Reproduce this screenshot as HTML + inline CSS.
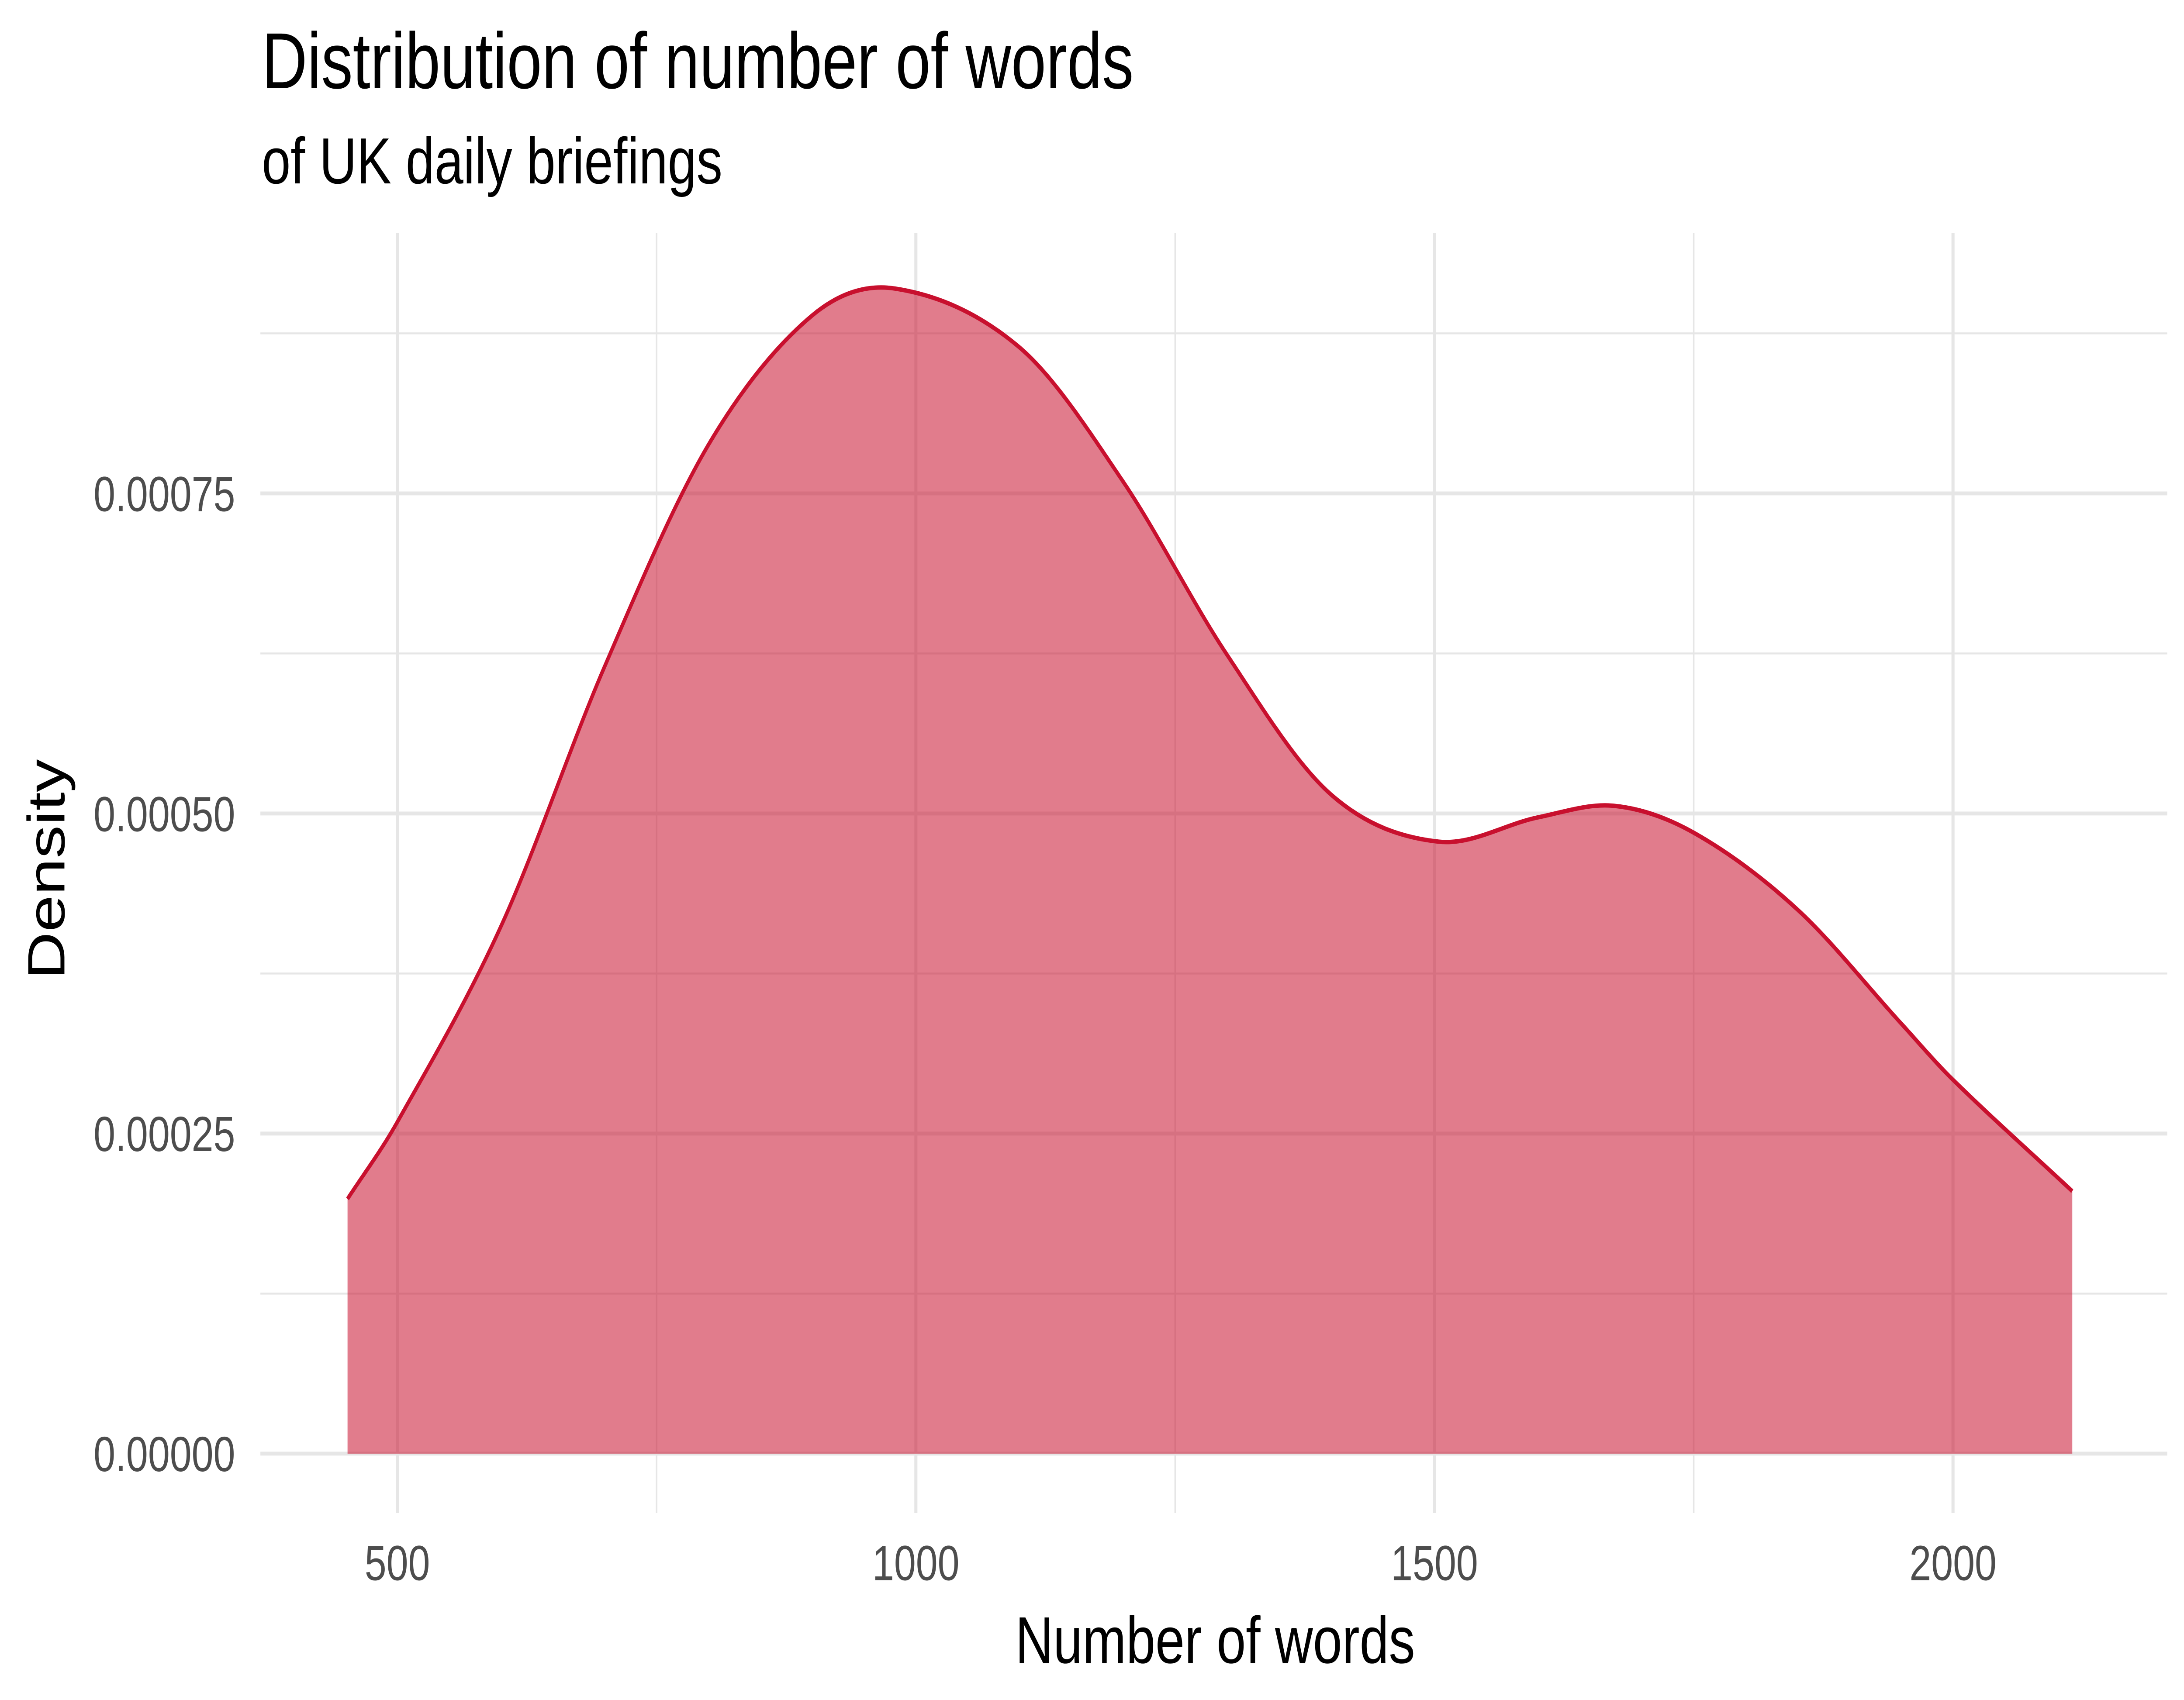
<!DOCTYPE html>
<html><head><meta charset="utf-8"><style>
html,body{margin:0;padding:0;background:#fff;width:100%;height:100%;overflow:hidden}
svg{display:block;position:absolute;left:0;top:0;width:100vw;height:100vh}
</style></head>
<body>
<svg viewBox="0 0 1560 964" preserveAspectRatio="none" xmlns="http://www.w3.org/2000/svg" font-family="Liberation Sans, sans-serif">
<rect width="1560" height="964" fill="#fff"/>
<g id="grid"></g>
<path id="area" fill="rgba(200,16,46,0.55)"/>
<path id="line" fill="none" stroke="#C8102E" stroke-width="2.5"/>
<g id="ticks" font-size="28" fill="#4d4d4d"></g>
<text x="187" y="50" font-size="45" fill="#000">Distribution of number of words</text>
<text x="187" y="104" font-size="37" fill="#000">of UK daily briefings</text>
<text x="868" y="943" font-size="37.5" text-anchor="middle" fill="#000">Number of words</text>
<text transform="translate(46,493) rotate(-90)" font-size="37.5" text-anchor="middle" fill="#000">Density</text>
</svg>
<script>
const xWords=[452,500,600,700,800,900,980,1100,1200,1300,1400,1504,1600,1673,1750,1850,1950,2000,2115];
const density=[0.000199,0.000259,0.000412,0.000615,0.000788,0.000889,0.00091,0.000864,0.000759,0.000624,0.000515,0.000478,0.000497,0.000506,0.000485,0.000425,0.000336,0.000292,0.000205];
const xTicks=[500,1000,1500,2000];
const xMinor=[750,1250,1750];
const yTicks=[0,0.00025,0.0005,0.00075];
const yTickLabels=["0.00000","0.00025","0.00050","0.00075"];
const yMinor=[0.000125,0.000375,0.000625,0.000875];
const X=v=>283.8+(v-500)*0.7408;
const Y=v=>824.3-v/0.00025*181.5;
const NS="http://www.w3.org/2000/svg";
const grid=document.getElementById('grid'),ticks=document.getElementById('ticks');
function ln(x1,y1,x2,y2,w,name){const l=document.createElementNS(NS,'line');
l.setAttribute('x1',x1);l.setAttribute('y1',y1);l.setAttribute('x2',x2);l.setAttribute('y2',y2);
l.setAttribute('stroke','#e6e6e6');l.setAttribute('stroke-width',w);


grid.appendChild(l);}
yMinor.forEach(v=>ln(186,Y(v),1548,Y(v),1.1,'y-minor-gridline'));
xMinor.forEach(v=>ln(X(v),132,X(v),858,1.1,'x-minor-gridline'));
yTicks.forEach(v=>ln(186,Y(v),1548,Y(v),2.2,'y-major-gridline'));
xTicks.forEach(v=>ln(X(v),132,X(v),858,2.2,'x-major-gridline'));
function tx(x,y,s,a,name){const t=document.createElementNS(NS,'text');t.setAttribute('x',x);t.setAttribute('y',y);t.setAttribute('text-anchor',a);t.textContent=s;


ticks.appendChild(t);}
yTicks.forEach((v,i)=>tx(168,Y(v)+10,yTickLabels[i],'end','y-tick-label'));
xTicks.forEach(v=>tx(X(v),896,String(v),'middle','x-tick-label'));
const n=xWords.length;
const m=xWords.map((x,i)=>{const a=Math.max(0,i-1),b=Math.min(n-1,i+1);return (density[b]-density[a])/(xWords[b]-xWords[a]);});
let d=`M${X(xWords[0])},${Y(density[0])}`;
for(let i=0;i<n-1;i++){const h=xWords[i+1]-xWords[i];
const c1x=xWords[i]+h/3,c1y=density[i]+m[i]*h/3,c2x=xWords[i+1]-h/3,c2y=density[i+1]-m[i+1]*h/3;
d+=` C${X(c1x)},${Y(c1y)} ${X(c2x)},${Y(c2y)} ${X(xWords[i+1])},${Y(density[i+1])}`;}
document.getElementById('line').setAttribute('d',d);
document.getElementById('area').setAttribute('d',d+` L${X(xWords[n-1])},${Y(0)} L${X(xWords[0])},${Y(0)} Z`);
</script>
</body></html>
